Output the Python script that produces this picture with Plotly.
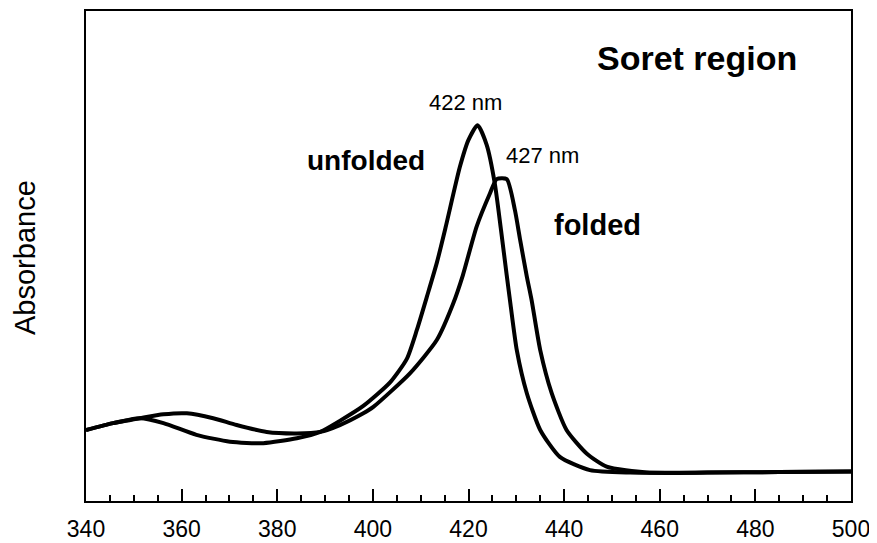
import plotly.graph_objects as go

# Wavelength (nm) and absorbance (arbitrary units)
unfolded_nm = [340, 345.7, 351.3, 356.2, 363.1, 370.1, 377.1, 384.1, 389.0, 393.0,
               398.0, 403.6, 407.1, 409.2, 411.3, 413.4, 415.2, 418.2, 420.0, 421.9,
               423.8, 425.5, 426.8, 428.0, 428.8, 430.1, 432.2, 435.0, 439.1, 445.4,
               453.8, 470, 485, 500]
unfolded_abs = [0.145, 0.159, 0.169, 0.159, 0.135, 0.121, 0.118, 0.128, 0.141, 0.163,
                0.194, 0.242, 0.290, 0.349, 0.417, 0.487, 0.558, 0.682, 0.737, 0.767,
                0.727, 0.648, 0.553, 0.460, 0.400, 0.308, 0.220, 0.145, 0.090, 0.063,
                0.058, 0.058, 0.059, 0.060]

folded_nm = [340, 345.7, 351.3, 356.2, 361.1, 366.6, 371.5, 377.8, 384.1, 389.0,
             393.1, 398.0, 400.1, 407.8, 413.4, 416.8, 418.8, 421.7, 424.5, 425.9,
             428.0, 429.7, 430.8, 432.2, 433.2, 435.0, 437.4, 440.5, 444.7, 448.9,
             457.3, 470, 485, 500]
folded_abs = [0.145, 0.159, 0.169, 0.177, 0.179, 0.169, 0.155, 0.141, 0.138, 0.141,
              0.155, 0.179, 0.192, 0.261, 0.329, 0.403, 0.460, 0.560, 0.628, 0.657,
              0.657, 0.594, 0.533, 0.458, 0.410, 0.308, 0.220, 0.145, 0.097, 0.070,
              0.058, 0.058, 0.059, 0.060]

x_ticks = [340, 360, 380, 400, 420, 440, 460, 480, 500]

FONT = "Liberation Sans, Arial, sans-serif"

fig = go.Figure()
for xs, ys, name in [(unfolded_nm, unfolded_abs, "unfolded"), (folded_nm, folded_abs, "folded")]:
    fig.add_trace(go.Scatter(x=xs, y=ys, mode="lines", name=name,
                             line=dict(color="black", width=4, shape="spline", smoothing=0.6),
                             showlegend=False))

annotations = [
    dict(text="<b>Soret region</b>", x=467.8, y=0.904, size=34),
    dict(text="<b>unfolded</b>", x=398.6, y=0.694, size=28),
    dict(text="<b>folded</b>", x=446.9, y=0.563, size=29),
    dict(text="422 nm", x=419.3, y=0.813, size=22),
    dict(text="427 nm", x=435.5, y=0.705, size=22),
]
for a in annotations:
    fig.add_annotation(text=a["text"], x=a["x"], y=a["y"], xref="x", yref="y",
                       showarrow=False, xanchor="center", yanchor="middle",
                       font=dict(family=FONT, size=a["size"], color="black"))

fig.add_annotation(text="Absorbance", x=-0.0797, y=0.496, xref="paper", yref="paper",
                   showarrow=False, textangle=-90, xanchor="center", yanchor="middle",
                   font=dict(family=FONT, size=29, color="black"))

fig.update_xaxes(range=[340, 500], tickvals=x_ticks, ticktext=[str(v) for v in x_ticks],
                 showline=True, linecolor="black", linewidth=2, mirror=True,
                 ticks="inside", ticklen=12, tickwidth=2, tickcolor="black",
                 minor=dict(dtick=5, tick0=340, ticks="inside", ticklen=6, tickwidth=2, tickcolor="black"),
                 showgrid=False, zeroline=False, ticklabelstandoff=6, automargin=False,
                 tickfont=dict(family=FONT, size=23, color="black"))
fig.update_yaxes(range=[0, 1], showline=True, linecolor="black", linewidth=2, mirror=True,
                 ticks="", showticklabels=False, showgrid=False, zeroline=False, automargin=False)

# page body has an 8px margin; size/margins compensate so the plot box sits where the original does
fig.update_layout(width=869, height=535, margin=dict(l=78, r=26, t=3, b=42),
                  paper_bgcolor="white", plot_bgcolor="white")

fig.write_html("out.html")
